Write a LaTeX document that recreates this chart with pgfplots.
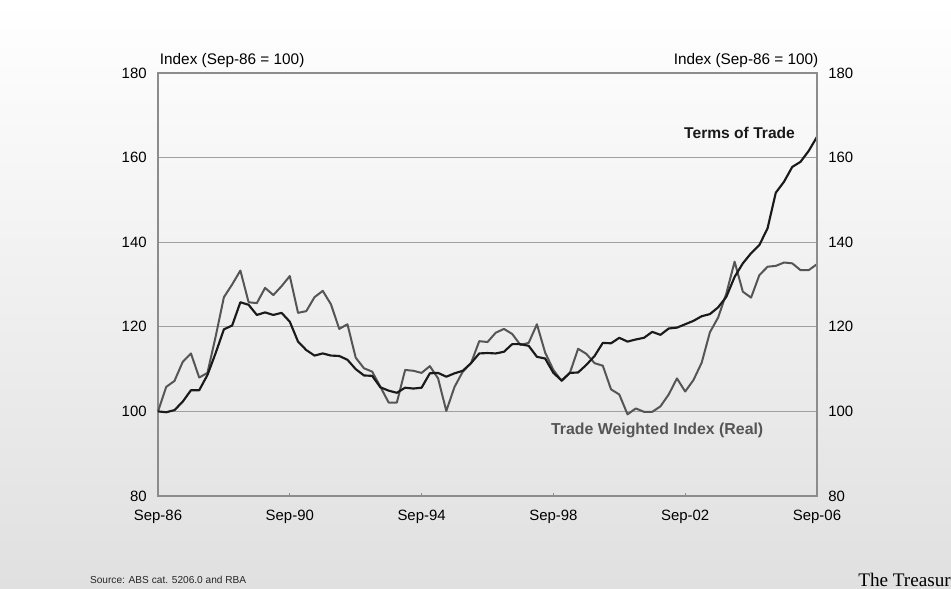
\documentclass[border=0pt]{standalone}
\usepackage{pgfplots}
\pgfplotsset{compat=1.18}
\usepackage{fontspec}
\setmainfont{Liberation Sans}
\newfontfamily\seriffont{Liberation Serif}
\definecolor{totc}{HTML}{1A1A1A}
\definecolor{twic}{HTML}{555555}
\definecolor{axc}{HTML}{8C8C8C}
\definecolor{gridc}{HTML}{A0A0A0}
\definecolor{bgbot}{HTML}{E0E0E0}
\pgfplotstableread{
i tot twi
0 100 100
1 99.8 105.8
2 100.3 107.2
3 102.3 111.7
4 105 113.7
5 105 108
6 108.6 109.1
7 113.8 117.7
8 119.4 127
9 120.3 130
10 125.8 133.3
11 125.2 125.8
12 122.8 125.6
13 123.4 129.2
14 122.8 127.5
15 123.3 129.6
16 121.2 132
17 116.5 123.3
18 114.5 123.7
19 113.2 127
20 113.7 128.5
21 113.2 125.3
22 113.1 119.5
23 112.2 120.6
24 110 112.7
25 108.5 110.2
26 108.4 109.4
27 105.7 105.8
28 104.9 102.1
29 104.4 102.1
30 105.6 109.8
31 105.4 109.6
32 105.6 109.1
33 109.0 110.7
34 109.1 107.8
35 108.2 100.1
36 109.0 105.8
37 109.6 109.4
38 111.4 111.4
39 113.7 116.6
40 113.8 116.4
41 113.7 118.6
42 114.1 119.5
43 115.9 118.3
44 115.9 115.7
45 115.5 116.2
46 112.9 120.6
47 112.5 113.9
48 109.1 109.8
49 107.3 107.2
50 109.1 109.1
51 109.2 114.8
52 111.0 113.6
53 113.1 111.4
54 116.2 110.8
55 116.1 105.2
56 117.4 104.0
57 116.5 99.3
58 117.0 100.7
59 117.4 99.9
60 118.8 99.9
61 118.1 101.2
62 119.6 104.0
63 119.8 107.8
64 120.6 104.7
65 121.4 107.4
66 122.5 111.5
67 123.0 118.7
68 124.6 122.2
69 127.1 127.9
70 131.8 135.4
71 135.0 128.3
72 137.4 126.9
73 139.3 132.2
74 143.3 134.2
75 151.7 134.4
76 154.3 135.2
77 157.8 135.0
78 159.0 133.4
79 161.6 133.4
80 164.9 134.8
}\datatable
\begin{document}
\begin{tikzpicture}
\useasboundingbox (0,0) rectangle (713.25pt,441.75pt);
\shade[top color=white, bottom color=bgbot] (0,0) rectangle (713.25pt,441.75pt);
\begin{axis}[
  at={(118.5pt,69.75pt)}, anchor=south west,
  scale only axis, width=494.25pt, height=317.25pt,
  xmin=0, xmax=80, ymin=80, ymax=180,
  axis line style={draw=axc, line width=0.8pt},
  xtick={0,16,32,48,64,80},
  xticklabels={Sep-86,Sep-90,Sep-94,Sep-98,Sep-02,Sep-06},
  ytick={80,100,120,140,160,180},
  yticklabel pos=left,
  tick align=inside,
  xtick pos=bottom,
  major tick length=2.5pt,
  ytick style={draw=none},
  xtick style={draw=axc, line width=0.6pt},
  ymajorgrids, grid style={draw=gridc, line width=1pt},
  tick label style={font=\fontsize{11.2}{13}\selectfont, text=black},
  xticklabel style={yshift=-7pt},
  yticklabel style={xshift=-5pt},
  /pgf/number format/assume math mode=true,
  clip=false,
]
\addplot[twic, line width=1.5pt, line join=round] table[x=i, y=twi] {\datatable};
\addplot[totc, line width=1.6pt, line join=round] table[x=i, y=tot] {\datatable};
\node[font=\bfseries\fontsize{11.7}{13}\selectfont, text=totc] at (axis cs:70.6,165.8) {Terms of Trade};
\node[font=\bfseries\fontsize{11.9}{13}\selectfont, text=twic] at (axis cs:60.6,95.6) {Trade Weighted Index (Real)};
\node[font=\fontsize{11.5}{13}\selectfont, anchor=south west, inner sep=0pt] at (axis cs:0.2,181.3) {Index (Sep-86 = 100)};
\node[font=\fontsize{11.5}{13}\selectfont, anchor=south east, inner sep=0pt] at (axis cs:80.2,181.3) {Index (Sep-86 = 100)};
\end{axis}
\begin{axis}[
  at={(118.5pt,69.75pt)}, anchor=south west,
  scale only axis, width=494.25pt, height=317.25pt,
  xmin=0, xmax=80, ymin=80, ymax=180,
  hide x axis,
  axis y line*=right,
  axis line style={draw=axc, line width=0.8pt, -},
  ytick={80,100,120,140,160,180},
  major tick length=0pt,
  ytick style={draw=none},
  tick label style={font=\fontsize{11.2}{13}\selectfont, text=black},
  yticklabel style={xshift=5pt},
  /pgf/number format/assume math mode=true,
]
\addplot[draw=none] coordinates {(0,100)};
\end{axis}
\node[anchor=west, font=\fontsize{7.6}{9}\selectfont, text=black!85] at (64pt,6.5pt) {Source: ABS cat. 5206.0 and RBA};
\node[anchor=base west, inner sep=0pt, font=\seriffont\fontsize{14.4}{16}\selectfont] at (643.5pt,1.5pt) {The Treasury};
\end{tikzpicture}
\end{document}
